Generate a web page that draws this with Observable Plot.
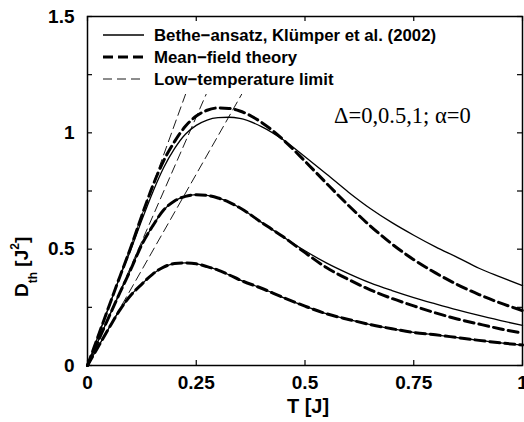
<!DOCTYPE html>
<html>
<head>
<meta charset="utf-8">
<script src="https://cdn.jsdelivr.net/npm/d3@7"></script>
<script src="https://cdn.jsdelivr.net/npm/@observablehq/plot@0.6"></script>
<style>
  html, body { margin: 0; padding: 0; background: #fff; }
  #chart svg { display: block; }
</style>
</head>
<body>
<div id="chart"></div>
<script>
// Temperature grid (T in units of J)
const T = [0, 0.025, 0.05, 0.075, 0.1, 0.125, 0.15, 0.175, 0.2, 0.225, 0.25, 0.275, 0.3, 0.325, 0.35, 0.4, 0.45, 0.5, 0.55, 0.6, 0.65, 0.7, 0.75, 0.8, 0.85, 0.9, 0.95, 1.0];

// Δ = 0 (Bethe-ansatz and mean-field coincide)
const bethe0 = [0, 0.082, 0.163, 0.240, 0.303, 0.350, 0.393, 0.423, 0.438, 0.441, 0.437, 0.425, 0.410, 0.390, 0.368, 0.332, 0.292, 0.255, 0.222, 0.198, 0.176, 0.158, 0.142, 0.132, 0.120, 0.108, 0.097, 0.088];
const mf0    = [0, 0.082, 0.163, 0.240, 0.303, 0.350, 0.393, 0.423, 0.438, 0.441, 0.437, 0.425, 0.410, 0.390, 0.368, 0.332, 0.292, 0.255, 0.222, 0.198, 0.176, 0.158, 0.142, 0.132, 0.120, 0.108, 0.097, 0.088];

// Δ = 0.5
const bethe05 = [0, 0.107, 0.212, 0.315, 0.415, 0.520, 0.600, 0.668, 0.707, 0.727, 0.734, 0.731, 0.720, 0.702, 0.678, 0.615, 0.553, 0.493, 0.440, 0.395, 0.355, 0.322, 0.292, 0.265, 0.239, 0.215, 0.193, 0.172];
const mf05    = [0, 0.107, 0.212, 0.315, 0.415, 0.520, 0.600, 0.668, 0.707, 0.727, 0.734, 0.731, 0.720, 0.702, 0.678, 0.615, 0.553, 0.485, 0.420, 0.370, 0.325, 0.288, 0.256, 0.226, 0.200, 0.178, 0.157, 0.139];

// Δ = 1
const bethe1 = [0, 0.129, 0.257, 0.383, 0.500, 0.625, 0.745, 0.850, 0.932, 0.994, 1.032, 1.055, 1.065, 1.067, 1.062, 1.027, 0.970, 0.897, 0.822, 0.745, 0.675, 0.614, 0.560, 0.510, 0.465, 0.418, 0.380, 0.343];
const mf1    = [0, 0.129, 0.258, 0.385, 0.510, 0.645, 0.772, 0.880, 0.962, 1.028, 1.072, 1.097, 1.107, 1.105, 1.094, 1.045, 0.970, 0.878, 0.782, 0.688, 0.600, 0.522, 0.455, 0.398, 0.348, 0.305, 0.268, 0.236];

// Low-temperature limits: straight lines from the origin, end points at the top of the frame
const lowT_T = [[0, 0.456], [0, 0.351], [0, 0.290]];
const lowT_D = [[0, 1.5], [0, 1.5], [0, 1.5]];

// Ticks and labels
const xTicks = [0, 0.25, 0.5, 0.75, 1];
const xTickLabels = ["0", "0.25", "0.5", "0.75", "1"];
const yTicks = [0, 0.25, 0.5, 0.75, 1, 1.25, 1.5];
const yLabelTicks = [0, 0.5, 1, 1.5];
const yTickLabels = ["0", "0.5", "1", "1.5"];

const legendLabels = ["Bethe\u2212ansatz, Kl\u00fcmper et al. (2002)", "Mean\u2212field theory", "Low\u2212temperature limit"];
const annotation = "\u0394=0,0.5,1; \u03b1=0";

const toRows = (arr, key) => arr.flatMap((vals, k) => vals.map((d, i) => ({T: T[i], D: d, k: key + k})));
const betheRows = toRows([bethe0, bethe05, bethe1], "b");
const mfRows = toRows([mf0, mf05, mf1], "m");
const lowRows = lowT_T.flatMap((ts, k) => ts.map((t, i) => ({T: t, D: lowT_D[k][i], k: "l" + k})));

const W = 524, H = 422;
const mL = 87, mR = 2, mT = 16, mB = 57;
const font = "'Liberation Sans', Arial, Helvetica, sans-serif";

const plot = Plot.plot({
  width: W, height: H,
  marginLeft: mL, marginRight: mR, marginTop: mT, marginBottom: mB,
  x: {domain: [0, 1]},
  y: {domain: [0, 1.5]},
  style: {fontFamily: font, fontWeight: "bold", fontSize: "19px", background: "white", overflow: "visible"},
  marks: [
    Plot.line(lowRows, {x: "T", y: "D", z: "k", stroke: "black", strokeWidth: 0.9, strokeDasharray: "9,5"}),
    Plot.line(betheRows, {x: "T", y: "D", z: "k", stroke: "black", strokeWidth: 1.3, curve: "monotone-x"}),
    Plot.line(mfRows, {x: "T", y: "D", z: "k", stroke: "black", strokeWidth: 3, strokeDasharray: "10,5", curve: "monotone-x"}),
    Plot.tickX(xTicks, {x: d => d, insetTop: H - mT - mB - 5, stroke: "black", strokeWidth: 1.2}),
    Plot.tickX(xTicks, {x: d => d, insetBottom: H - mT - mB - 5, stroke: "black", strokeWidth: 1.2}),
    Plot.tickY(yTicks, {y: d => d, insetRight: W - mL - mR - 5, stroke: "black", strokeWidth: 1.2}),
    Plot.tickY(yTicks, {y: d => d, insetLeft: W - mL - mR - 5, stroke: "black", strokeWidth: 1.2}),
    Plot.axisX({ticks: xTicks, tickSize: 0, tickPadding: 10, tickFormat: d => xTickLabels[xTicks.indexOf(d)], fontSize: 19, fontWeight: "bold", label: null}),
    Plot.axisY({ticks: yLabelTicks, tickSize: 0, tickPadding: 13, tickFormat: d => yTickLabels[yLabelTicks.indexOf(d)], fontSize: 19, fontWeight: "bold", label: null}),
    Plot.frame({stroke: "black", strokeWidth: 1.5})
  ]
});

document.getElementById("chart").appendChild(plot);

const svg = d3.select(plot);
// Legend box (white background hides low-T lines beneath it)
const leg = svg.insert("g", "[aria-label=tick]");
leg.append("rect").attr("x", mL + 1).attr("y", mT + 1).attr("width", 357).attr("height", 77).attr("fill", "white");
const rowsY = [35, 57, 79];
const styles = [
  {w: 1.3, dash: null},
  {w: 3, dash: "10,5"},
  {w: 0.9, dash: "9,5"}
];
rowsY.forEach((yy, i) => {
  const ln = leg.append("line").attr("x1", 103).attr("x2", 144).attr("y1", yy).attr("y2", yy)
    .attr("stroke", "black").attr("stroke-width", styles[i].w);
  if (styles[i].dash) ln.attr("stroke-dasharray", styles[i].dash);
  leg.append("text").attr("x", 154).attr("y", yy).attr("dy", "0.36em").attr("text-anchor", "start")
    .attr("font-family", font).attr("font-weight", "bold").attr("font-size", 16.8)
    .attr("fill", "black").text(legendLabels[i]);
});

// Annotation
svg.append("text").attr("x", 334).attr("y", 123).attr("text-anchor", "start")
  .attr("font-family", "'Liberation Serif', 'Times New Roman', serif").attr("font-weight", "normal")
  .attr("font-size", 22.5).attr("fill", "black").text(annotation);

// Axis titles
svg.append("text").attr("x", 308).attr("y", 413).attr("text-anchor", "middle")
  .attr("font-family", font).attr("font-weight", "bold").attr("font-size", 20).attr("fill", "black").text("T [J]");

const yl = svg.append("text").attr("transform", "translate(28,297) rotate(-90)").attr("text-anchor", "start")
  .attr("font-family", font).attr("font-weight", "bold").attr("font-size", 19).attr("fill", "black");
yl.append("tspan").text("D");
yl.append("tspan").attr("font-size", 12).attr("dy", 9).text("th");
yl.append("tspan").attr("dy", -9).text(" [J");
yl.append("tspan").attr("font-size", 12).attr("dy", -9).text("2");
yl.append("tspan").attr("dy", 9).text("]");
</script>
</body>
</html>
